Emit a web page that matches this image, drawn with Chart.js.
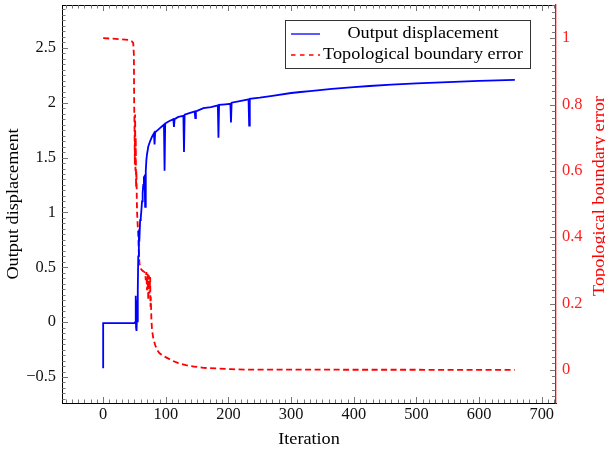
<!DOCTYPE html>
<html>
<head>
<meta charset="utf-8">
<script src="https://cdn.jsdelivr.net/npm/chart.js@4.4.1/dist/chart.umd.min.js"></script>
<style>
  html, body { margin: 0; padding: 0; background: #fff; }
  #wrap { width: 605px; height: 452px; position: relative; }
</style>
</head>
<body>
<div id="wrap"><canvas id="myChart"></canvas></div>
<script>
// output displacement (left axis)
const dispIter = [0, 0, 50, 51, 52, 52.5, 53, 53.5, 54, 55,
  55.5, 56, 57, 58, 59, 60, 61, 62, 63, 64,
  65, 66, 67, 68, 69, 70, 72, 75, 78, 81,
  82, 83, 87, 91, 95, 97, 98, 99, 105, 112,
  113, 114, 120, 128, 129, 130, 140, 146, 147, 148,
  160, 172, 183, 184, 185, 195, 203, 204, 205, 218,
  232, 233, 234, 250, 270, 300, 315, 330, 365, 400,
  425, 460, 500, 550, 600, 657];
const dispValue = [-0.42, -0.01, -0.01, 0, 0.24, -0.05, 0.2, -0.08, 0.05, 0,
  0.3, 0.6, 0.8, 0.78, 0.93, 0.95, 1.02, 1.1, 1.18, 1.25,
  1.32, 1.33, 1.05, 1.38, 1.48, 1.53, 1.6, 1.65, 1.69, 1.72,
  1.62, 1.73, 1.75, 1.77, 1.79, 1.8, 1.38, 1.81, 1.83, 1.85,
  1.78, 1.85, 1.87, 1.88, 1.55, 1.89, 1.91, 1.92, 1.86, 1.92,
  1.95, 1.96, 1.975, 1.68, 1.98, 1.985, 1.99, 1.82, 2.0, 2.015,
  2.03, 1.79, 2.035, 2.045, 2.062, 2.088, 2.097, 2.106, 2.125, 2.142,
  2.152, 2.165, 2.176, 2.188, 2.198, 2.207];

// topological boundary error (right axis)
const errIter = [0, 20, 40, 46, 48, 49, 49.5, 50, 50.5, 51,
  51.5, 52, 52.5, 53, 54, 55, 56, 57, 58, 60,
  62, 65, 67, 68, 69, 70, 71, 72, 73, 74,
  75, 75.5, 76, 77, 78, 80, 83, 86, 90, 95,
  102, 110, 120, 132, 145, 160, 182, 205, 230, 657];
const errValue = [1.0, 0.998, 0.995, 0.99, 0.985, 0.95, 0.8, 0.74, 0.62, 0.77,
  0.6, 0.7, 0.55, 0.6, 0.48, 0.44, 0.4, 0.35, 0.32, 0.305,
  0.3, 0.296, 0.293, 0.27, 0.295, 0.24, 0.29, 0.21, 0.285, 0.23,
  0.28, 0.19, 0.22, 0.15, 0.12, 0.095, 0.075, 0.06, 0.05, 0.043,
  0.036, 0.028, 0.02, 0.014, 0.01, 0.006, 0.004, 0.002, 0.0005, 0];

const xTicks = [0, 100, 200, 300, 400, 500, 600, 700];
const leftTicks = [-0.5, 0, 0.5, 1, 1.5, 2, 2.5];
const rightTicks = [0, 0.2, 0.4, 0.6, 0.8, 1];

const seriesNames = ['Output displacement', 'Topological boundary error'];
const axisTitles = { x: 'Iteration', y: 'Output displacement', y1: 'Topological boundary error' };

const FONT = "'Liberation Serif', serif";
const FS = 16.4;
const STRETCH = 1.11; // Computer Modern is wider than Times

function setTicks(list) {
  return function (scale) { scale.ticks = list.map(v => ({ value: v })); };
}

// fixed box sizes so the plot area lands where the reference has it
function fixSize(w, h) {
  return function (scale) {
    if (w) scale.width = w;
    if (h) scale.height = h;
    scale.paddingTop = 0;
    scale.paddingBottom = 0;
    scale.paddingLeft = 0;
    scale.paddingRight = 0;
  };
}

// stretched text helper
function txt(ctx, s, x, y, rot, color, align) {
  ctx.save();
  ctx.translate(x, y);
  if (rot) ctx.rotate(rot);
  ctx.scale(STRETCH, 1);
  ctx.font = FS + 'px ' + FONT;
  ctx.fillStyle = color;
  ctx.textAlign = align || 'center';
  ctx.textBaseline = 'middle';
  ctx.fillText(s, 0, 0);
  ctx.restore();
}

const decorations = {
  id: 'decorations',
  afterDraw(chart) {
    const ctx = chart.ctx;
    const a = chart.chartArea;
    const sx = chart.scales.x, sy = chart.scales.y, sy1 = chart.scales.y1;
    ctx.save();
    // top frame
    ctx.strokeStyle = '#000';
    ctx.lineWidth = 1;
    ctx.beginPath();
    ctx.moveTo(a.left, a.top + 0.5);
    ctx.lineTo(a.right, a.top + 0.5);
    ctx.stroke();

    // inward ticks
    ctx.strokeStyle = '#666';
    ctx.lineWidth = 0.9;
    ctx.beginPath();
    for (let v = -60; v <= 720; v += 10) {
      const px = Math.round(sx.getPixelForValue(v)) + 0.5;
      const len = v % 100 === 0 ? 6 : 3.5;
      ctx.moveTo(px, a.bottom); ctx.lineTo(px, a.bottom - len);
      ctx.moveTo(px, a.top); ctx.lineTo(px, a.top + len);
    }
    for (let i = -14; i <= 57; i++) {
      const v = i * 0.05;
      const py = Math.round(sy.getPixelForValue(v)) + 0.5;
      if (py < a.top || py > a.bottom) continue;
      const len = i % 10 === 0 ? 6 : 3.5;
      ctx.moveTo(a.left, py); ctx.lineTo(a.left + len, py);
    }
    for (let i = -5; i <= 55; i++) {
      const v = i * 0.02;
      const py = Math.round(sy1.getPixelForValue(v)) + 0.5;
      if (py < a.top || py > a.bottom) continue;
      const len = i % 10 === 0 ? 6 : 4;
      ctx.moveTo(a.right, py); ctx.lineTo(a.right - len, py);
    }
    ctx.stroke();

    // axis titles
    txt(ctx, axisTitles.x, (a.left + a.right) / 2, 440, 0, '#000');
    txt(ctx, axisTitles.y, 14, (a.top + a.bottom) / 2, -Math.PI / 2, '#000');
    txt(ctx, axisTitles.y1, 600, 196, -Math.PI / 2, '#ff0000');

    // legend box
    const bx = 285.5, by = 20.5, bw = 245, bh = 48;
    ctx.fillStyle = '#fff';
    ctx.fillRect(bx, by, bw, bh);
    ctx.strokeStyle = '#333';
    ctx.lineWidth = 1;
    ctx.strokeRect(bx, by, bw, bh);
    ctx.lineWidth = 1.3;
    ctx.strokeStyle = '#0000ff';
    ctx.beginPath(); ctx.moveTo(291, 34); ctx.lineTo(320, 34); ctx.stroke();
    ctx.strokeStyle = '#ff0000';
    ctx.lineWidth = 1.6;
    ctx.setLineDash([4.5, 4.5]);
    ctx.beginPath(); ctx.moveTo(291, 55); ctx.lineTo(320, 55); ctx.stroke();
    ctx.setLineDash([]);
    txt(ctx, seriesNames[0], 423, 34, 0, '#000');
    txt(ctx, seriesNames[1], 423, 55, 0, '#000');
    ctx.restore();
  }
};

const data = {
  datasets: [
    {
      label: seriesNames[0],
      data: dispIter.map((x, i) => ({ x: x, y: dispValue[i] })),
      borderColor: '#0000ff',
      backgroundColor: '#0000ff',
      borderWidth: 1.8,
      pointRadius: 0,
      tension: 0,
      yAxisID: 'y',
    },
    {
      label: seriesNames[1],
      data: errIter.map((x, i) => ({ x: x, y: errValue[i] })),
      borderColor: '#ff0000',
      backgroundColor: '#ff0000',
      borderWidth: 1.8,
      borderDash: [6, 3.5],
      pointRadius: 0,
      tension: 0,
      yAxisID: 'y1',
    },
  ],
};

const tickFont = { family: FONT, size: FS };

const config = {
  type: 'line',
  data,
  options: {
    responsive: true,
    maintainAspectRatio: false,
    animation: false,
    devicePixelRatio: 1,
    layout: { padding: { top: 5, left: 0, right: 0, bottom: 0 } },
    plugins: { legend: { display: false }, tooltip: { enabled: false } },
    scales: {
      x: {
        type: 'linear',
        position: 'bottom',
        min: -65.7,
        max: 722.7,
        grid: { display: false, drawTicks: false },
        border: { display: true, color: '#000', width: 1 },
        ticks: { font: tickFont, color: '#111', padding: 2, maxRotation: 0 },
        afterBuildTicks: setTicks(xTicks),
        afterFit: fixSize(0, 49),
      },
      y: {
        type: 'linear',
        position: 'left',
        min: -0.737,
        max: 2.89,
        grid: { display: false, drawTicks: false },
        border: { display: true, color: '#000', width: 1 },
        ticks: {
          font: tickFont, color: '#111', padding: 6,
          callback: v => (v < 0 ? '\u2212' + Math.abs(v) : String(v)),
        },
        afterBuildTicks: setTicks(leftTicks),
        afterFit: fixSize(62, 0),
      },
      y1: {
        type: 'linear',
        position: 'right',
        min: -0.1,
        max: 1.1,
        grid: { display: false, drawTicks: false },
        border: { display: true, color: '#ff0000', width: 1.3 },
        ticks: { font: tickFont, color: '#ff2020', padding: 6, callback: v => String(v) },
        afterBuildTicks: setTicks(rightTicks),
        afterFit: fixSize(49, 0),
      },
    },
  },
  plugins: [decorations],
};

var myChart = new Chart(document.getElementById('myChart'), config);
</script>
</body>
</html>
